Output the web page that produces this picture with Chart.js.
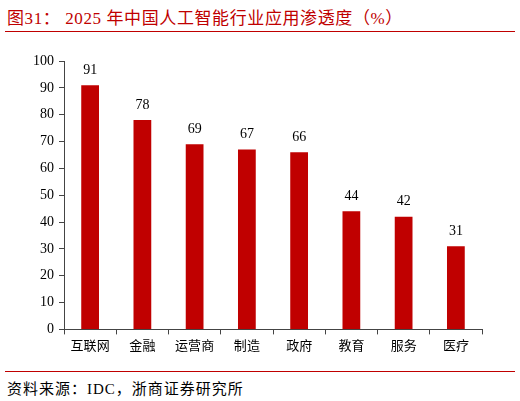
<!DOCTYPE html>
<html><head><meta charset="utf-8">
<script src="https://cdn.jsdelivr.net/npm/chart.js@4"></script>
<style>
html,body{margin:0;padding:0;background:#fff;width:520px;height:401px;overflow:hidden;}
#title{position:absolute;left:7px;top:4px;font-family:"Liberation Serif","Noto Sans CJK SC",serif;font-size:17px;letter-spacing:0.6px;color:#C00000;white-space:nowrap;}
#line1{position:absolute;left:5px;top:31px;width:510px;height:1px;background:#C00000;}
#line2{position:absolute;left:5px;top:371px;width:510px;height:1px;background:#C00000;}
#src{position:absolute;left:7px;top:377px;font-family:"Liberation Serif","Noto Sans CJK SC",serif;font-size:15px;letter-spacing:1px;color:#000;white-space:nowrap;}
#wrap{position:absolute;left:0;top:40px;width:520px;height:320px;}
</style></head>
<body>
<div id="title">图31：&nbsp;2025 年中国人工智能行业应用渗透度（%）</div>
<div id="line1"></div>
<div id="wrap"><canvas id="c"></canvas></div>
<div id="line2"></div>
<div id="src">资料来源：IDC，浙商证券研究所</div>
<script>
const categories = ["互联网","金融","运营商","制造","政府","教育","服务","医疗"];
const values = [91,78,69,67,66,44,42,31];
const yTicks = [0,10,20,30,40,50,60,70,80,90,100];

const labelPlugin = {
  id:'vlabels',
  afterDatasetsDraw(chart){
    const ctx = chart.ctx;
    const meta = chart.getDatasetMeta(0);
    ctx.save();
    ctx.font = '14px "Liberation Serif", serif';
    ctx.fillStyle = '#000';
    ctx.textAlign = 'center';
    ctx.textBaseline = 'bottom';
    meta.data.forEach((el,i)=>{
      ctx.fillText(String(values[i]), el.x, el.y - 8);
    });
    ctx.restore();
  }
};

new Chart(document.getElementById('c'),{
  type:'bar',
  data:{labels:categories,datasets:[{data:values,backgroundColor:'#C00000',borderWidth:0,categoryPercentage:1,barPercentage:0.34}]},
  options:{
    responsive:true,maintainAspectRatio:false,animation:false,
    layout:{padding:{left:28,right:38,top:21,bottom:2}},
    plugins:{legend:{display:false},tooltip:{enabled:false}},
    scales:{
      x:{
        grid:{drawOnChartArea:false,drawTicks:true,tickLength:5,color:'#444',offset:true},
        border:{color:'#444',width:1},
        ticks:{color:'#000',font:{family:'"Liberation Serif","Noto Sans CJK SC",serif',size:13},padding:4,maxRotation:0}
      },
      y:{
        min:0,max:100,
        afterBuildTicks(axis){axis.ticks = yTicks.map(v=>({value:v}));},
        grid:{drawOnChartArea:false,drawTicks:true,tickLength:5,color:'#444'},
        border:{color:'#444',width:1},
        ticks:{color:'#000',font:{family:'"Liberation Serif",serif',size:14},padding:5}
      }
    }
  },
  plugins:[labelPlugin]
});
</script>
</body></html>
